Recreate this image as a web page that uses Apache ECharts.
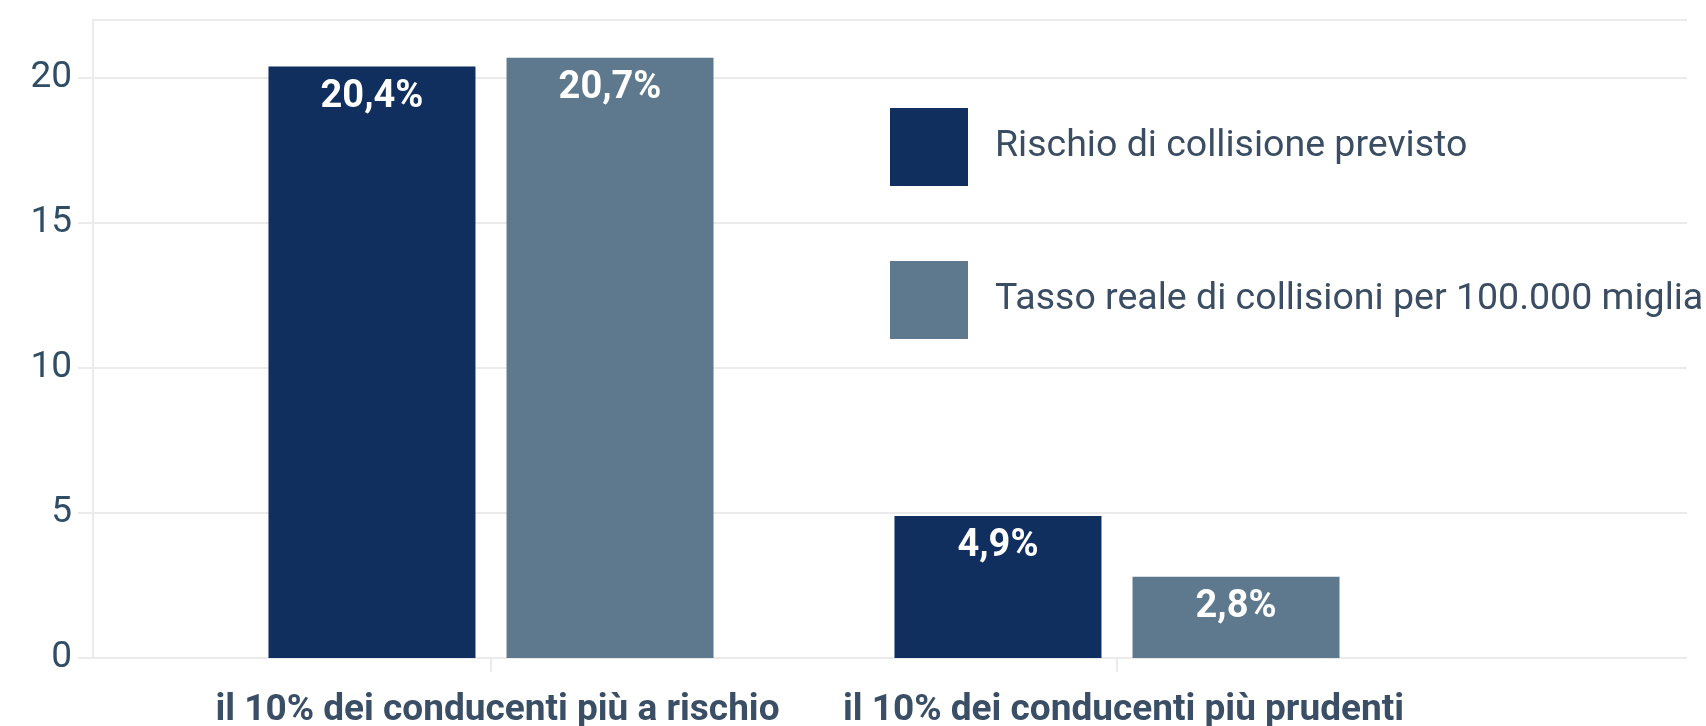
<!DOCTYPE html>
<html>
<head>
<meta charset="utf-8">
<script src="https://cdn.jsdelivr.net/npm/echarts@6/dist/echarts.min.js"></script>
<style>
  html, body { margin: 0; padding: 0; background: #fff; }
  #chart { width: 1706px; height: 726px; }
</style>
</head>
<body>
<div id="chart"></div>
<script>
// Dati
const categories = ['il 10% dei conducenti più a rischio', 'il 10% dei conducenti più prudenti'];
const seriesNames = ['Rischio di collisione previsto', 'Tasso reale di collisioni per 100.000 miglia'];
const previsto = [20.4, 4.9];
const reale = [20.7, 2.8];
const yTicks = [0, 5, 10, 15, 20];

const FONT = 'Roboto';
const gridColor = '#ebebeb';

function fmtPct(v) {
    return v.toFixed(1).replace('.', ',') + '%';
}

const barLabel = {
    show: true,
    position: 'insideTop',
    distance: 12,
    color: '#fff',
    fontFamily: FONT,
    fontWeight: 'bold',
    fontSize: 38,
    formatter: function (p) { return fmtPct(p.value); }
};

const option = {
    animation: false,
    backgroundColor: '#fff',
    textStyle: { fontFamily: FONT },
    grid: [
        // griglia per assi e linee
        { left: 93, right: 19, top: 20, bottom: 68, outerBoundsMode: 'none' },
        // griglia per le barre
        { left: 178, right: 276, top: 20, bottom: 68, outerBoundsMode: 'none' }
    ],
    legend: {
        orient: 'vertical',
        left: 890,
        top: 108,
        padding: 0,
        itemWidth: 78,
        itemHeight: 78,
        itemGap: 75,
        icon: 'rect',
        textStyle: {
            fontFamily: FONT,
            fontSize: 37.5,
            color: '#3a4d62',
            padding: [0, 0, 0, 22]
        },
        data: seriesNames
    },
    xAxis: [
        { type: 'value', gridIndex: 0, show: false, min: 0, max: 1 },
        {
            type: 'category',
            gridIndex: 1,
            data: categories,
            axisLine: { show: false },
            axisTick: {
                show: true,
                interval: 0,
                alignWithLabel: true,
                length: 14,
                lineStyle: { color: gridColor, width: 2 }
            },
            axisLabel: {
                interval: 0,
                hideOverlap: false,
                margin: 34,
                padding: [0, 0, 0, 13],
                fontFamily: FONT,
                fontWeight: 'bold',
                fontSize: 37,
                color: '#3a4f66'
            }
        }
    ],
    yAxis: [
        {
            type: 'value',
            gridIndex: 0,
            min: yTicks[0],
            max: 22,
            interval: yTicks[1] - yTicks[0],
            axisLine: { show: true, lineStyle: { color: gridColor, width: 2 } },
            axisTick: { show: true, length: 15, lineStyle: { color: gridColor, width: 2 } },
            splitLine: { show: true, lineStyle: { color: gridColor, width: 2 } },
            axisLabel: {
                margin: 21,
                fontFamily: FONT,
                fontSize: 37,
                color: '#2f4e66',
                showMaxLabel: false,
                formatter: function (v) { return yTicks.indexOf(v) >= 0 ? String(v) : ''; }
            }
        },
        {
            type: 'value',
            gridIndex: 1,
            min: 0,
            max: 22,
            show: false,
            splitLine: { show: false }
        }
    ],
    series: [
        {
            name: seriesNames[0],
            type: 'bar',
            xAxisIndex: 1,
            yAxisIndex: 1,
            data: previsto,
            barWidth: 207,
            barGap: '15%',
            itemStyle: { color: '#112f5e' },
            label: barLabel
        },
        {
            name: seriesNames[1],
            type: 'bar',
            xAxisIndex: 1,
            yAxisIndex: 1,
            data: reale,
            barWidth: 207,
            barGap: '15%',
            itemStyle: { color: '#5e798d' },
            label: barLabel
        }
    ]
};

const chart = echarts.init(document.getElementById('chart'));
chart.setOption(option);
</script>
</body>
</html>
